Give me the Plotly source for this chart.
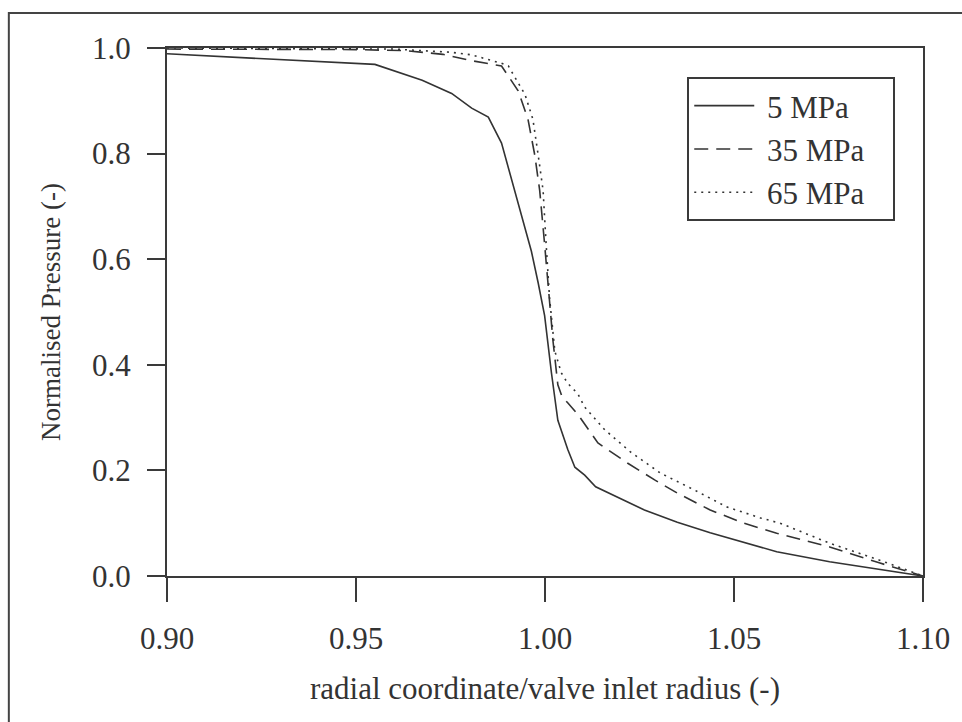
import plotly.graph_objects as go

# ---- data ----
x_5 = [0.900, 0.955, 0.9675, 0.9753, 0.9806, 0.985, 0.9885, 0.9912, 0.9940, 0.9964,
       0.9982, 0.9999, 1.0017, 1.0034, 1.0060, 1.0079, 1.0105, 1.0134, 1.0263, 1.0350,
       1.0437, 1.0613, 1.0753, 1.0930, 1.100]
y_5 = [0.989, 0.969, 0.939, 0.914, 0.886, 0.869, 0.820, 0.750, 0.680, 0.615,
       0.555, 0.493, 0.385, 0.295, 0.240, 0.206, 0.191, 0.169, 0.125, 0.102,
       0.082, 0.046, 0.027, 0.008, 0.000]

x_35 = [0.900, 0.950, 0.963, 0.973, 0.9806, 0.985, 0.9885, 0.9929, 0.9955, 0.9973,
        0.9986, 0.9999, 1.0008, 1.0021, 1.0034, 1.0045, 1.0060, 1.0087, 1.0140, 1.0218,
        1.0290, 1.0350, 1.0437, 1.0526, 1.0613, 1.0753, 1.0884, 1.100]
y_35 = [0.998, 0.997, 0.995, 0.988, 0.976, 0.971, 0.966, 0.919, 0.865, 0.797,
        0.730, 0.628, 0.547, 0.446, 0.362, 0.340, 0.328, 0.306, 0.252, 0.214,
        0.182, 0.157, 0.125, 0.100, 0.081, 0.055, 0.025, 0.000]

x_65 = [0.900, 0.960, 0.975, 0.9806, 0.9885, 0.9903, 0.9947, 0.9968, 0.9982, 0.9995,
        1.0003, 1.0012, 1.0026, 1.0043, 1.0060, 1.0087, 1.0105, 1.0158, 1.0226, 1.0305,
        1.0395, 1.0480, 1.0570, 1.0622, 1.0753, 1.0885, 1.100]
y_65 = [1.000, 0.998, 0.992, 0.987, 0.971, 0.966, 0.912, 0.865, 0.797, 0.730,
        0.628, 0.527, 0.426, 0.385, 0.365, 0.345, 0.320, 0.277, 0.235, 0.195,
        0.163, 0.131, 0.110, 0.100, 0.062, 0.030, 0.000]

series_names = ["5 MPa", "35 MPa", "65 MPa"]
x_ticks = [0.90, 0.95, 1.00, 1.05, 1.10]
y_ticks = [0.0, 0.2, 0.4, 0.6, 0.8, 1.0]

INK = "#333333"
FONT = "Liberation Serif, Times New Roman, serif"
NBSP = "\u00a0"


def legend_label(name):
    # small gap after the line sample and some room before the legend frame
    return NBSP + name + NBSP * 3


fig = go.Figure()
fig.add_trace(go.Scatter(x=x_5, y=y_5, mode="lines", name=legend_label(series_names[0]),
                         line=dict(color=INK, width=1.6, dash="solid")))
fig.add_trace(go.Scatter(x=x_35, y=y_35, mode="lines", name=legend_label(series_names[1]),
                         line=dict(color=INK, width=1.6, dash="14px,8px")))
fig.add_trace(go.Scatter(x=x_65, y=y_65, mode="lines", name=legend_label(series_names[2]),
                         line=dict(color=INK, width=1.6, dash="2px,5px")))

axis_common = dict(
    showgrid=False, zeroline=False, showline=True, linecolor="#3a3a3a", linewidth=2,
    mirror=True, ticks="outside", tickcolor="#3a3a3a", tickwidth=2,
    tickfont=dict(family=FONT, size=31, color=INK),
)

fig.update_xaxes(range=[0.90, 1.10], tickvals=x_ticks, tickformat=".2f", ticklen=24,
                 ticklabelstandoff=10,
                 title=dict(text="radial coordinate/valve inlet radius (-)",
                            font=dict(family=FONT, size=31, color=INK), standoff=22),
                 **axis_common)
fig.update_yaxes(range=[0.0, 1.0], tickvals=y_ticks, tickformat=".1f", ticklen=18,
                 ticklabelstandoff=10,
                 title=dict(text="Normalised Pressure (-)",
                            font=dict(family=FONT, size=27, color=INK), standoff=24),
                 **axis_common)

# outer frame of the figure
fig.add_shape(type="rect", xref="paper", yref="paper",
              x0=(8 - 167) / 760, x1=(975 - 167) / 760,
              y0=(576 - 735) / 528, y1=(576 - 13) / 528,
              line=dict(color="#444444", width=2), fillcolor="rgba(0,0,0,0)")

fig.update_layout(
    width=962, height=722, autosize=False,
    margin=dict(l=167, r=35, t=48, b=146),
    paper_bgcolor="white", plot_bgcolor="white",
    font=dict(family=FONT, color=INK),
    legend=dict(x=(690 - 167) / 760, y=(576 - 77) / 528, xanchor="left", yanchor="top",
                bgcolor="white", bordercolor="#3a3a3a", borderwidth=2,
                font=dict(family=FONT, size=31, color=INK), itemwidth=60,
                tracegroupgap=0),
    showlegend=True,
)

fig.write_html("out.html")
